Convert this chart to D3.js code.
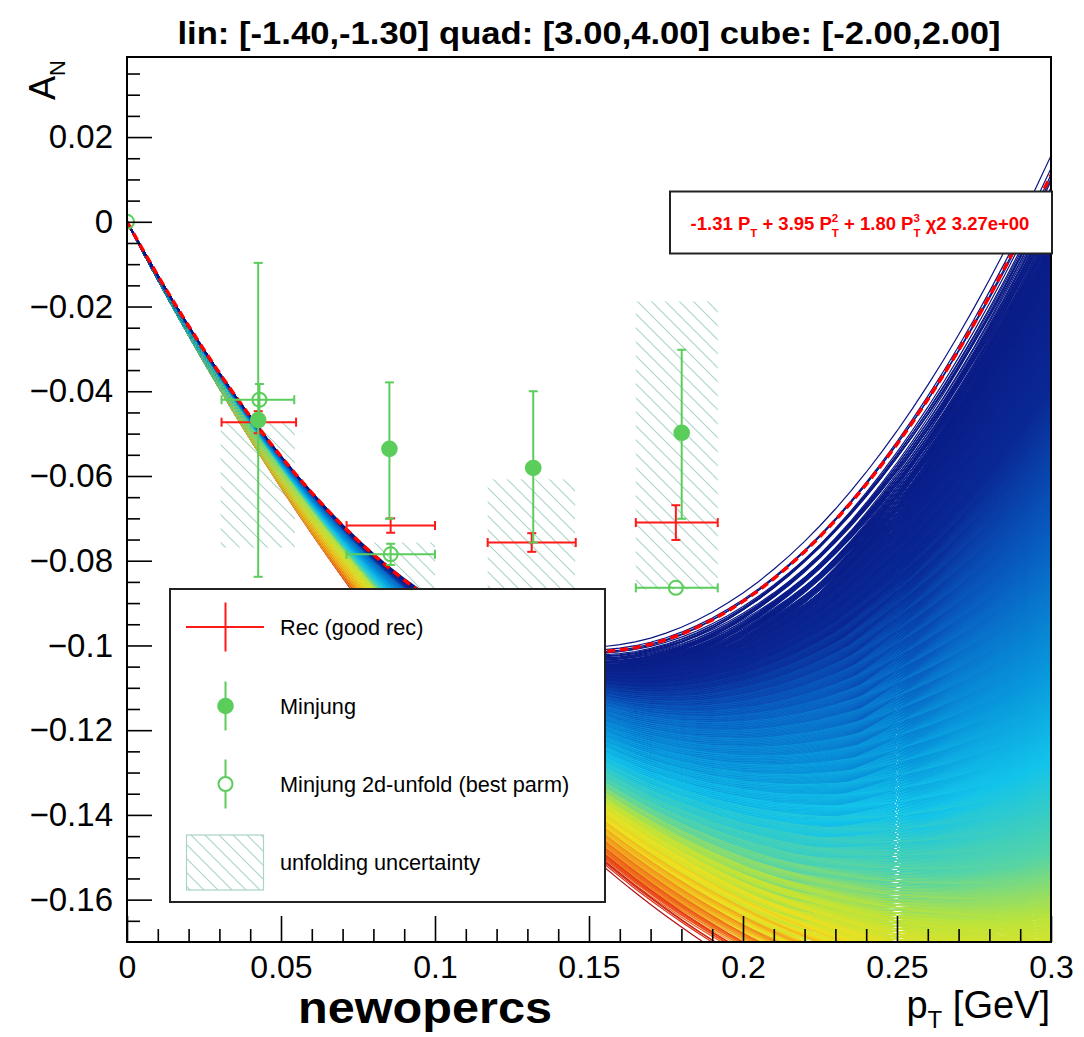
<!DOCTYPE html>
<html><head><meta charset="utf-8">
<script src="https://cdn.jsdelivr.net/npm/d3@7"></script>
<style>body{margin:0;background:#fff} svg{display:block} text{white-space:pre}</style>
</head><body>
<svg id="chart" width="1084" height="1037"></svg>
<script>
// ---------------- data ----------------
const linValues  = [-1.40,-1.39,-1.38,-1.37,-1.36,-1.35,-1.34,-1.33,-1.32,-1.31];
const quadValues = [3.00,3.05,3.10,3.15,3.20,3.25,3.30,3.35,3.40,3.45,3.50,3.55,3.60,3.65,3.70,3.75,3.80,3.85,3.90,3.95,4.00];
const cubeValues = [-2.0,-1.8,-1.6,-1.4,-1.2,-1.0,-0.8,-0.6,-0.4,-0.2,0.0,0.2,0.4,0.6,0.8,1.0,1.2,1.4,1.6,1.8];
const bestFit = [-1.31, 3.95, 1.80];
const bestChi2 = "3.27e+00";

const recX   = [0.0426, 0.0856, 0.1314, 0.1782];
const recXlo = [0.0307, 0.0713, 0.1171, 0.1652];
const recXhi = [0.0549, 0.1000, 0.1457, 0.1918];
const recY   = [-0.0473, -0.0717, -0.0757, -0.0710];
const recYerr= [0.0026, 0.0017, 0.0022, 0.0041];

const minjX   = [0.0426, 0.0852, 0.1319, 0.1801];
const minjY   = [-0.0468, -0.0536, -0.0581, -0.0498];
const minjYhi = [-0.0097, -0.0379, -0.0400, -0.0302];
const minjYlo = [-0.0838, -0.0701, -0.0757, -0.0701];

const unfX   = [0.0, 0.0430, 0.0856, 0.1782];
const unfY   = [0.0, -0.0420, -0.0785, -0.0864];
const unfXlo = [0.0, 0.0307, 0.0713, 0.1652];
const unfXhi = [0.0, 0.0543, 0.1000, 0.1918];
const unfYerr= [0.0, 0.0037, 0.0025, 0.0000];

const boxX0   = [0.0304, 0.0713, 0.1171, 0.1652];
const boxX1   = [0.0545, 0.1000, 0.1455, 0.1918];
const boxYtop = [-0.0475, -0.0757, -0.0608, -0.0188];
const boxYbot = [-0.0769, -0.0900, -0.0900, -0.0868];

const xMajorTicks = [0, 0.05, 0.1, 0.15, 0.2, 0.25, 0.3];
const xTickLabels = ["0", "0.05", "0.1", "0.15", "0.2", "0.25", "0.3"];
const yMajorTicks = [0.02, 0, -0.02, -0.04, -0.06, -0.08, -0.1, -0.12, -0.14, -0.16];
const yTickLabels = ["0.02", "0", "\u22120.02", "\u22120.04", "\u22120.06", "\u22120.08", "\u22120.1", "\u22120.12", "\u22120.14", "\u22120.16"];

const legendLabels = ["Rec (good rec)", "Minjung", "Minjung 2d-unfold (best parm)", "unfolding uncertainty"];
const titleText = "lin: [-1.40,-1.30] quad: [3.00,4.00] cube: [-2.00,2.00]";

// ---------------- layout ----------------
const FONT = "'Liberation Sans', Arial, Helvetica, sans-serif";
const L = 127, R = 1051, T = 57, B = 942;
const x = d3.scaleLinear().domain([0, 0.3]).range([L, R]);
const y = d3.scaleLinear().domain([-0.17, 0.0389]).range([B, T]);
const svg = d3.select("#chart").style("font-family", FONT);

const defs = svg.append("defs");
defs.append("clipPath").attr("id", "frameClip").append("rect")
  .attr("x", L).attr("y", T).attr("width", R - L).attr("height", B - T);
const HP = 14;
const HATCH = "#a9d3c6";
const pat = defs.append("pattern").attr("id", "hatch").attr("patternUnits", "userSpaceOnUse")
  .attr("width", HP).attr("height", HP);
pat.append("path").attr("d", `M-1,-1 L${HP+1},${HP+1} M-1,${HP-1} L1,${HP+1} M${HP-1},-1 L${HP+1},1`)
  .attr("stroke", HATCH).attr("stroke-width", 1.1);

// palette (blue -> red) indexed by relative depth in the band at the last pT
const palStops = [0, 0.25, 0.40, 0.55, 0.65, 0.75, 0.82, 0.88, 0.93, 0.97, 1];
const palCols  = ["#0a1580", "#0b2a95", "#0a5cc0", "#0a98dc", "#14c4ea", "#55d4a8", "#bde43a", "#f0e020", "#f29020", "#e83a1a", "#b01010"];
const pal = d3.scaleLinear().domain(palStops).range(palCols).interpolate(d3.interpolateRgb).clamp(true);

// ---------------- hatched boxes ----------------
const plot = svg.append("g").attr("clip-path", "url(#frameClip)");
plot.append("g").selectAll("rect").data(boxX0).join("rect")
  .attr("x", (d, i) => x(boxX0[i])).attr("width", (d, i) => x(boxX1[i]) - x(boxX0[i]))
  .attr("y", (d, i) => y(boxYtop[i])).attr("height", (d, i) => y(boxYbot[i]) - y(boxYtop[i]))
  .attr("fill", "url(#hatch)");

// ---------------- curve family ----------------
const pts = d3.range(0, 0.30001, 0.005);
const poly = (p, t) => p[0] * t + p[1] * t * t + p[2] * t * t * t;
const curves = [];
linValues.forEach(a => quadValues.forEach(b => cubeValues.forEach(c => curves.push([a, b, c]))));
const vals = curves.map(p => pts.map(t => poly(p, t)));
const last = pts.length - 1;
const vTop = d3.max(vals, v => v[last]), vBot = d3.min(vals, v => v[last]);
const depth = vals.map(v => (vTop - v[last]) / (vTop - vBot));
const line = d3.line().x(d => x(d[0])).y(d => y(d[1]));
plot.append("g").attr("fill", "none").attr("stroke-width", 1.2)
  .selectAll("path").data(curves).join("path")
  .attr("d", (p, i) => line(pts.map((t, j) => [t, vals[i][j]])))
  .attr("stroke", (p, i) => pal(depth[i]));
// best fit
plot.append("path").attr("fill", "none").attr("stroke", "#ff0000").attr("stroke-width", 3.5)
  .attr("stroke-dasharray", "8,5")
  .attr("d", line(pts.map(t => [t, poly(bestFit, t)])));

// ---------------- data points ----------------
const RED = "#ff1a1a", GREEN = "#5acd5a";
function errBars(g, cx, cy, xlo, xhi, ylo, yhi) {
  const cap = 4.5;
  if (xhi - xlo > 0.5) {
    g.append("line").attr("x1", xlo).attr("x2", xhi).attr("y1", cy).attr("y2", cy);
    g.append("line").attr("x1", xlo).attr("x2", xlo).attr("y1", cy - cap).attr("y2", cy + cap);
    g.append("line").attr("x1", xhi).attr("x2", xhi).attr("y1", cy - cap).attr("y2", cy + cap);
  }
  if (ylo - yhi > 0.5) {
    g.append("line").attr("x1", cx).attr("x2", cx).attr("y1", yhi).attr("y2", ylo);
    g.append("line").attr("x1", cx - cap).attr("x2", cx + cap).attr("y1", yhi).attr("y2", yhi);
    g.append("line").attr("x1", cx - cap).attr("x2", cx + cap).attr("y1", ylo).attr("y2", ylo);
  }
}
const marks = svg.append("g").attr("clip-path", "url(#frameClip)");
const gRec = marks.append("g").attr("stroke", RED).attr("stroke-width", 2);
recX.forEach((v, i) => errBars(gRec, x(v), y(recY[i]), x(recXlo[i]), x(recXhi[i]),
  y(recY[i] - recYerr[i]), y(recY[i] + recYerr[i])));
const gMin = marks.append("g").attr("stroke", GREEN).attr("stroke-width", 2);
minjX.forEach((v, i) => errBars(gMin, x(v), y(minjY[i]), x(v), x(v), y(minjYlo[i]), y(minjYhi[i])));
gMin.selectAll("circle").data(minjX).join("circle")
  .attr("cx", d => x(d)).attr("cy", (d, i) => y(minjY[i])).attr("r", 8.3)
  .attr("fill", GREEN).attr("stroke", "none");
const gUnf = marks.append("g").attr("stroke", GREEN).attr("stroke-width", 2);
unfX.forEach((v, i) => errBars(gUnf, x(v), y(unfY[i]), x(unfXlo[i]), x(unfXhi[i]),
  y(unfY[i] - unfYerr[i]), y(unfY[i] + unfYerr[i])));
gUnf.selectAll("circle").data(unfX).join("circle")
  .attr("cx", d => x(d)).attr("cy", (d, i) => y(unfY[i])).attr("r", 7)
  .attr("fill", "none");

// ---------------- axes ----------------
const yMinor = d3.range(-0.165, 0.0386, 0.005).filter(v => !yMajorTicks.some(m => Math.abs(m - v) < 1e-6));
const xMinor = d3.range(0.01, 0.2999, 0.01).filter(v => !xMajorTicks.some(m => Math.abs(m - v) < 1e-6));

const axY = svg.append("g").attr("transform", `translate(${L},0)`)
  .call(d3.axisLeft(y).tickValues(yMajorTicks).tickSize(-25).tickPadding(14)
    .tickFormat((d, i) => yTickLabels[i]));
axY.select(".domain").remove();
axY.selectAll("text").attr("font-size", 33).attr("fill", "#000").attr("font-family", FONT);
axY.selectAll("line").attr("stroke-width", 1.6);
const axYm = svg.append("g").attr("transform", `translate(${L},0)`)
  .call(d3.axisLeft(y).tickValues(yMinor).tickSize(-13).tickFormat(""));
axYm.select(".domain").remove();
axYm.selectAll("line").attr("stroke-width", 1.6);

const axX = svg.append("g").attr("transform", `translate(0,${B})`)
  .call(d3.axisBottom(x).tickValues(xMajorTicks).tickSize(-26).tickPadding(13)
    .tickFormat((d, i) => xTickLabels[i]));
axX.select(".domain").remove();
axX.selectAll("text").attr("font-size", 32).attr("fill", "#000").attr("font-family", FONT);
axX.selectAll("line").attr("stroke-width", 1.6);
const axXm = svg.append("g").attr("transform", `translate(0,${B})`)
  .call(d3.axisBottom(x).tickValues(xMinor).tickSize(-13).tickFormat(""));
axXm.select(".domain").remove();
axXm.selectAll("line").attr("stroke-width", 1.6);

svg.append("rect").attr("x", L).attr("y", T).attr("width", R - L).attr("height", B - T)
  .attr("fill", "none").attr("stroke", "#000").attr("stroke-width", 2);

// ---------------- rich text helper ----------------
function rich(parent, x0, y0, segs, anchor, base, rot) {
  const g = parent.append("g");
  const inner = g.append("g");
  let cx = 0, pend = 0;
  segs.forEach(s => {
    const t = inner.append("text").attr("x", cx).attr("y", s.dy || 0)
      .attr("font-size", s.size || base.size).attr("font-weight", base.weight || "normal")
      .attr("fill", base.fill || "#000").text(s.t);
    const w = t.node().getComputedTextLength();
    if (s.stack) pend = Math.max(pend, w);
    else { cx += Math.max(w, pend); pend = 0; }
  });
  const off = anchor === "middle" ? -cx / 2 : anchor === "end" ? -cx : 0;
  g.attr("transform", `translate(${x0},${y0}) rotate(${rot || 0})`);
  inner.attr("transform", `translate(${off},0)`);
  return g;
}

// ---------------- titles ----------------
svg.append("text").attr("x", (L + R) / 2).attr("y", 44).attr("text-anchor", "middle")
  .attr("font-size", 31).attr("font-weight", "bold").attr("textLength", 823)
  .attr("lengthAdjust", "spacingAndGlyphs").text(titleText);

rich(svg, 55, 60, [{t: "A"}, {t: "N", size: 22, dy: 10}], "end", {size: 36}, -90);

svg.append("text").attr("x", 425).attr("y", 1023).attr("text-anchor", "middle")
  .attr("font-size", 44).attr("font-weight", "bold").attr("textLength", 254)
  .attr("lengthAdjust", "spacingAndGlyphs").text("newopercs");

rich(svg, 1050, 1018, [{t: "p"}, {t: "T", size: 24, dy: 10}, {t: " [GeV]"}], "end", {size: 38});

// ---------------- fit box ----------------
svg.append("rect").attr("x", 670).attr("y", 191.5).attr("width", 382).attr("height", 62)
  .attr("fill", "#fff").attr("stroke", "#222").attr("stroke-width", 2);
const sBase = 18.5, sSmall = 11.5;
const fmt = v => v.toFixed(2);
rich(svg, 860, 230, [
  {t: fmt(bestFit[0]) + " P"}, {t: "T", size: sSmall, dy: 7},
  {t: " + " + fmt(bestFit[1]) + " P"}, {t: "2", size: sSmall, dy: -8, stack: true}, {t: "T", size: sSmall, dy: 7},
  {t: " + " + fmt(bestFit[2]) + " P"}, {t: "3", size: sSmall, dy: -8, stack: true}, {t: "T", size: sSmall, dy: 7},
  {t: " \u03c72 " + bestChi2}
], "middle", {size: sBase, weight: "bold", fill: "#ff0000"});

// ---------------- legend ----------------
const lg = svg.append("g");
lg.append("rect").attr("x", 170).attr("y", 589).attr("width", 435).attr("height", 313)
  .attr("fill", "#fff").attr("stroke", "#222").attr("stroke-width", 2);
const rowY = [627, 706, 784, 862];
const sx = 225.5;
const lr = lg.append("g").attr("stroke", RED).attr("stroke-width", 2);
lr.append("line").attr("x1", 186).attr("x2", 264).attr("y1", rowY[0]).attr("y2", rowY[0]);
lr.append("line").attr("x1", sx).attr("x2", sx).attr("y1", rowY[0] - 24.5).attr("y2", rowY[0] + 24.5);
const lm = lg.append("g").attr("stroke", GREEN).attr("stroke-width", 2);
lm.append("line").attr("x1", sx).attr("x2", sx).attr("y1", rowY[1] - 24.5).attr("y2", rowY[1] + 24.5);
lm.append("circle").attr("cx", sx).attr("cy", rowY[1]).attr("r", 8.3).attr("fill", GREEN).attr("stroke", "none");
const lu = lg.append("g").attr("stroke", GREEN).attr("stroke-width", 2);
lu.append("line").attr("x1", sx).attr("x2", sx).attr("y1", rowY[2] - 24.5).attr("y2", rowY[2] + 24.5);
lu.append("circle").attr("cx", sx).attr("cy", rowY[2]).attr("r", 7).attr("fill", "#fff");
lg.append("rect").attr("x", 186.5).attr("y", 835).attr("width", 77).attr("height", 55)
  .attr("fill", "url(#hatch)").attr("stroke", HATCH).attr("stroke-width", 1.2);
lg.selectAll("text.leg").data(legendLabels).join("text").attr("class", "leg")
  .attr("x", 280).attr("y", (d, i) => rowY[i] + 7.5).attr("font-size", 21.7).attr("fill", "#000")
  .text(d => d);
</script>
</body></html>
